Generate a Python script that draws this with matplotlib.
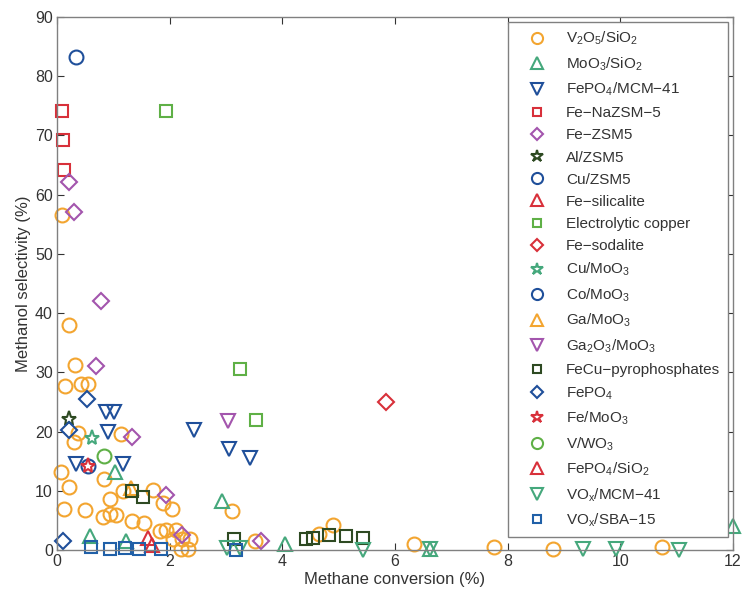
import matplotlib
matplotlib.use("Agg")
import matplotlib.pyplot as plt

# ---- data (methane conversion %, methanol selectivity %) ----
v2o5_x = [0.09, 0.21, 0.32, 0.15, 0.43, 0.55, 0.30, 0.38, 1.14, 0.07, 0.22, 0.13, 0.83, 0.95,
          1.17, 1.70, 0.50, 0.82, 0.94, 1.05, 1.34, 1.54, 1.89, 2.04, 1.82, 1.94, 2.11, 2.06,
          2.22, 2.36, 2.20, 2.32, 3.10, 3.51, 4.66, 4.90, 6.34, 7.75, 8.81, 10.74]
v2o5_y = [56.6, 38.0, 31.3, 27.7, 28.0, 28.0, 18.3, 19.8, 19.6, 13.1, 10.6, 6.9, 12.0, 8.6,
          10.0, 10.2, 6.7, 5.5, 6.0, 5.9, 4.9, 4.6, 8.0, 6.9, 3.2, 3.4, 3.4, 1.9,
          1.8, 1.9, 0.1, 0.1, 6.6, 1.6, 2.7, 4.2, 1.0, 0.5, 0.1, 0.5]

moo3_x = [0.59, 1.03, 1.22, 2.93, 4.04, 6.62, 12.0]
moo3_y = [2.4, 13.2, 1.5, 8.3, 1.0, 0.2, 4.1]

fepo4mcm_x = [0.33, 0.87, 1.02, 0.91, 1.18, 2.44, 3.05, 3.42]
fepo4mcm_y = [14.6, 23.3, 23.3, 19.9, 14.6, 20.3, 17.1, 15.6]

fenazsm_x = [0.09, 0.10, 0.13]
fenazsm_y = [74.1, 69.2, 64.1]

fezsm_x = [0.22, 0.31, 0.79, 0.69, 1.33, 1.93, 2.22, 3.63]
fezsm_y = [62.1, 57.1, 42.0, 31.0, 19.0, 9.2, 2.5, 1.6]

alzsm_x = [0.22]
alzsm_y = [22.1]

cuzsm_x = [0.33]
cuzsm_y = [83.2]

fesil_x = [1.61]
fesil_y = [2.0]

elcu_x = [1.93, 3.25, 3.53]
elcu_y = [74.1, 30.6, 22.0]

fesod_x = [5.84]
fesod_y = [25.0]

cumoo3_x = [0.62]
cumoo3_y = [18.9]

comoo3_x = [0.55]
comoo3_y = [14.2]

gamoo3_x = [1.31]
gamoo3_y = [10.4]

ga2o3_x = [3.04]
ga2o3_y = [21.7]

fecu_x = [1.34, 1.52, 3.14, 4.42, 4.55, 4.83, 5.13, 5.44]
fecu_y = [10.0, 8.9, 1.9, 1.8, 2.1, 2.5, 2.4, 2.1]

fepo4_x = [0.53, 0.21, 0.10]
fepo4_y = [25.5, 20.2, 1.5]

femoo3_x = [0.55]
femoo3_y = [14.2]

vwo3_x = [0.84]
vwo3_y = [15.9]

fepo4sio2_x = [1.69]
fepo4sio2_y = [0.8]

voxmcm_x = [3.01, 3.25, 5.44, 6.62, 9.34, 9.93, 11.05]
voxmcm_y = [0.3, 0.3, 0.0, 0.2, 0.1, 0.1, 0.0]

voxsba_x = [0.60, 0.94, 1.20, 1.45, 1.84, 3.17]
voxsba_y = [0.5, 0.2, 0.3, 0.1, 0.2, 0.0]

labels = ['V$_2$O$_5$/SiO$_2$', 'MoO$_3$/SiO$_2$', 'FePO$_4$/MCM\u221241', 'Fe\u2212NaZSM\u22125',
          'Fe\u2212ZSM5', 'Al/ZSM5', 'Cu/ZSM5', 'Fe\u2212silicalite', 'Electrolytic copper',
          'Fe\u2212sodalite', 'Cu/MoO$_3$', 'Co/MoO$_3$', 'Ga/MoO$_3$', 'Ga$_2$O$_3$/MoO$_3$',
          'FeCu\u2212pyrophosphates', 'FePO$_4$', 'Fe/MoO$_3$', 'V/WO$_3$', 'FePO$_4$/SiO$_2$',
          'VO$_x$/MCM\u221241', 'VO$_x$/SBA\u221215']

ORANGE = '#f3a530'
TEAL = '#45a87c'
BLUE = '#1f4f9a'
RED = '#d8303a'
PURPLE = '#a355ad'
DKGREEN = '#2e4a22'
LTGREEN = '#5fb046'

series = [
    (v2o5_x, v2o5_y, 'o', ORANGE, 10),
    (moo3_x, moo3_y, '^', TEAL, 10),
    (fepo4mcm_x, fepo4mcm_y, 'v', BLUE, 10),
    (fenazsm_x, fenazsm_y, 's', RED, 8),
    (fezsm_x, fezsm_y, 'D', PURPLE, 8),
    (alzsm_x, alzsm_y, '*', DKGREEN, 11),
    (cuzsm_x, cuzsm_y, 'o', BLUE, 10),
    (fesil_x, fesil_y, '^', RED, 10),
    (elcu_x, elcu_y, 's', LTGREEN, 8),
    (fesod_x, fesod_y, 'D', RED, 8),
    (cumoo3_x, cumoo3_y, '*', TEAL, 11),
    (comoo3_x, comoo3_y, 'o', BLUE, 10),
    (gamoo3_x, gamoo3_y, '^', ORANGE, 10),
    (ga2o3_x, ga2o3_y, 'v', PURPLE, 10),
    (fecu_x, fecu_y, 's', DKGREEN, 8),
    (fepo4_x, fepo4_y, 'D', BLUE, 8),
    (femoo3_x, femoo3_y, '*', RED, 11),
    (vwo3_x, vwo3_y, 'o', LTGREEN, 10),
    (fepo4sio2_x, fepo4sio2_y, '^', RED, 10),
    (voxmcm_x, voxmcm_y, 'v', TEAL, 10),
    (voxsba_x, voxsba_y, 's', '#2060a8', 8),
]

plt.rcParams['font.family'] = ['Liberation Sans', 'DejaVu Sans']
plt.rcParams['mathtext.fontset'] = 'custom'
plt.rcParams['mathtext.rm'] = 'Liberation Sans'
plt.rcParams['mathtext.it'] = 'Liberation Sans'
plt.rcParams['mathtext.default'] = 'regular'

fig = plt.figure(figsize=(7.42, 5.91), dpi=100)
ax = fig.add_axes([0.0768, 0.0694, 0.911, 0.902])

for (xs, ys, m, c, ms), lab in zip(series, labels):
    ax.plot(xs, ys, linestyle='none', marker=m, markersize=ms, markerfacecolor='none',
            markeredgecolor=c, markeredgewidth=1.5, label=lab, clip_on=False)

ax.set_xlim(0, 12)
ax.set_ylim(0, 90)
ax.set_xticks([0, 2, 4, 6, 8, 10, 12])
ax.set_yticks(range(0, 91, 10))
ax.tick_params(direction='in', top=True, right=True, length=5, labelsize=11.5,
               colors='#333333', width=0.8, pad=3)
for s in ax.spines.values():
    s.set_color('#808080')
    s.set_linewidth(1.0)
ax.set_xlabel('Methane conversion (%)', fontsize=12, color='#333333', labelpad=2)
ax.set_ylabel('Methanol selectivity (%)', fontsize=12, color='#333333', labelpad=3)

leg = ax.legend(loc='upper right', fontsize=11, frameon=True, fancybox=False,
                edgecolor='#808080', framealpha=1, borderaxespad=0.35,
                labelspacing=0.53, handletextpad=0.5, borderpad=0.5,
                markerscale=0.8, handlelength=2.8)
leg.get_frame().set_linewidth(1.0)
for t in leg.get_texts():
    t.set_color('#333333')

fig.savefig('out.png', dpi=100)
